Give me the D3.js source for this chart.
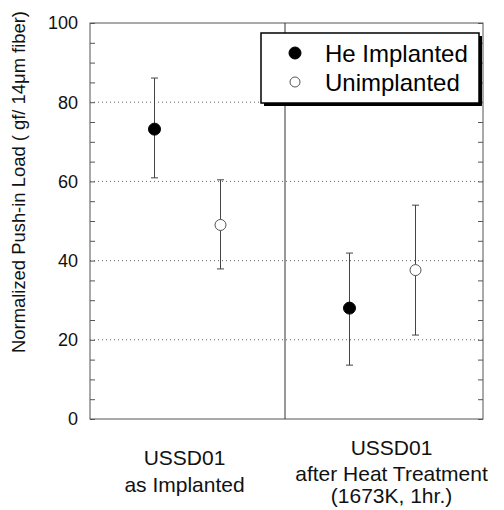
<!DOCTYPE html>
<html>
<head>
<meta charset="utf-8">
<script src="https://cdn.jsdelivr.net/npm/d3@7"></script>
<style>
  body { margin: 0; background: #fff; }
  svg { font-family: "Liberation Sans", Arial, sans-serif; }
</style>
</head>
<body>
<div id="chart"></div>
<script>
// Data
const groups = ['as Implanted', 'after Heat Treatment'];
const groupLabels = [['USSD01', 'as Implanted'], ['USSD01', 'after Heat Treatment', '(1673K, 1hr.)']];
const seriesNames = ['He Implanted', 'Unimplanted'];
const heMean = [73.2, 28.0];
const heLow = [60.9, 13.6];
const heHigh = [86.1, 41.9];
const unMean = [49.0, 37.6];
const unLow = [37.9, 21.2];
const unHigh = [60.4, 54.0];
const yTicks = [0, 20, 40, 60, 80, 100];
const gridValues = [20, 40, 60, 80];

const width = 504, height = 510;
const margin = { left: 90, right: 21, top: 23, bottom: 91 };
const x0 = margin.left, x1 = width - margin.right;
const y0 = height - margin.bottom, y1 = margin.top;

const svg = d3.select('#chart').append('svg')
  .attr('width', width)
  .attr('height', height);

const y = d3.scaleLinear().domain([0, 100]).range([y0, y1]);
const xg = d3.scaleBand().domain(groups).range([x0, x1 - 3]);
const offset = 33;

// gridlines
svg.append('g').selectAll('line')
  .data(gridValues)
  .enter().append('line')
  .attr('x1', x0).attr('x2', x1)
  .attr('y1', d => y(d)).attr('y2', d => y(d))
  .attr('stroke', '#666')
  .attr('stroke-width', 1)
  .attr('stroke-dasharray', '1,3');

// frame
svg.append('rect')
  .attr('x', x0).attr('y', y1)
  .attr('width', x1 - x0).attr('height', y0 - y1)
  .attr('fill', 'none')
  .attr('stroke', '#555')
  .attr('stroke-width', 1);

// divider between groups
const divX = xg(groups[1]);
svg.append('line')
  .attr('x1', divX).attr('x2', divX)
  .attr('y1', y1).attr('y2', y0)
  .attr('stroke', '#333')
  .attr('stroke-width', 1);

// inward ticks, left and right
const leftAxis = d3.axisLeft(y).tickValues(d3.range(0, 101, 5)).tickSizeInner(-5).tickSizeOuter(0).tickFormat('');
const rightAxis = d3.axisRight(y).tickValues(d3.range(0, 101, 5)).tickSizeInner(-5).tickSizeOuter(0).tickFormat('');
svg.append('g').attr('transform', `translate(${x0},0)`).call(leftAxis)
  .call(g => g.select('.domain').remove())
  .selectAll('line').attr('stroke', '#555');
svg.append('g').attr('transform', `translate(${x1},0)`).call(rightAxis)
  .call(g => g.select('.domain').remove())
  .selectAll('line').attr('stroke', '#555');

// tick labels
svg.append('g').selectAll('text')
  .data(yTicks)
  .enter().append('text')
  .attr('x', x0 - 12)
  .attr('y', d => y(d))
  .attr('dy', '0.35em')
  .attr('text-anchor', 'end')
  .attr('font-size', 18)
  .attr('fill', '#111')
  .text(d => d);

// y title
svg.append('text')
  .attr('transform', 'translate(25,182) rotate(-90)')
  .attr('text-anchor', 'middle')
  .attr('font-size', 18)
  .attr('textLength', 342)
  .attr('lengthAdjust', 'spacingAndGlyphs')
  .attr('fill', '#111')
  .text('Normalized Push-in Load ( gf/ 14\u03bcm fiber)');

// category labels
const labelShift = [-3, 9];
const lineY = [[465, 492], [455, 481, 503]];
groupLabels.forEach((lines, gi) => {
  const cx = xg(groups[gi]) + xg.bandwidth() / 2 + labelShift[gi];
  lines.forEach((t, li) => {
    svg.append('text')
      .attr('x', cx)
      .attr('y', lineY[gi][li])
      .attr('text-anchor', 'middle')
      .attr('font-size', 21)
      .attr('fill', '#111')
      .text(t);
  });
});

// points with error bars
const series = [
  { name: seriesNames[0], mean: heMean, low: heLow, high: heHigh, dx: -offset, filled: true },
  { name: seriesNames[1], mean: unMean, low: unLow, high: unHigh, dx: offset, filled: false }
];

series.forEach(s => {
  const g = svg.append('g');
  const pts = groups.map((grp, i) => ({
    x: xg(grp) + xg.bandwidth() / 2 + s.dx,
    m: s.mean[i], lo: s.low[i], hi: s.high[i]
  }));
  g.selectAll('line.err').data(pts).enter().append('line')
    .attr('x1', d => d.x).attr('x2', d => d.x)
    .attr('y1', d => y(d.lo)).attr('y2', d => y(d.hi))
    .attr('stroke', '#444').attr('stroke-width', 1);
  g.selectAll('line.capHi').data(pts).enter().append('line')
    .attr('x1', d => d.x - 3.5).attr('x2', d => d.x + 3.5)
    .attr('y1', d => y(d.hi)).attr('y2', d => y(d.hi))
    .attr('stroke', '#444').attr('stroke-width', 1);
  g.selectAll('line.capLo').data(pts).enter().append('line')
    .attr('x1', d => d.x - 3.5).attr('x2', d => d.x + 3.5)
    .attr('y1', d => y(d.lo)).attr('y2', d => y(d.lo))
    .attr('stroke', '#444').attr('stroke-width', 1);
  g.selectAll('circle').data(pts).enter().append('circle')
    .attr('cx', d => d.x).attr('cy', d => y(d.m))
    .attr('r', s.filled ? 6 : 5.5)
    .attr('fill', s.filled ? '#000' : '#fff')
    .attr('stroke', s.filled ? '#000' : '#555')
    .attr('stroke-width', 1);
});

// legend
const lg = svg.append('g');
const lx = 261, ly = 33, lw = 218, lh = 70;
lg.append('rect')
  .attr('x', lx + 3).attr('y', ly + 3)
  .attr('width', lw).attr('height', lh)
  .attr('fill', '#000');
lg.append('rect')
  .attr('x', lx).attr('y', ly)
  .attr('width', lw).attr('height', lh)
  .attr('fill', '#fff')
  .attr('stroke', '#000')
  .attr('stroke-width', 1.5);
series.forEach((s, i) => {
  const cy = ly + 20 + i * 29;
  lg.append('circle')
    .attr('cx', lx + 34).attr('cy', cy)
    .attr('r', s.filled ? 6 : 5)
    .attr('fill', s.filled ? '#000' : '#fff')
    .attr('stroke', s.filled ? '#000' : '#555')
    .attr('stroke-width', 1);
  lg.append('text')
    .attr('x', lx + 64).attr('y', cy + 9)
    .attr('font-size', 24)
    .attr('fill', '#000')
    .text(s.name);
});
</script>
</body>
</html>
